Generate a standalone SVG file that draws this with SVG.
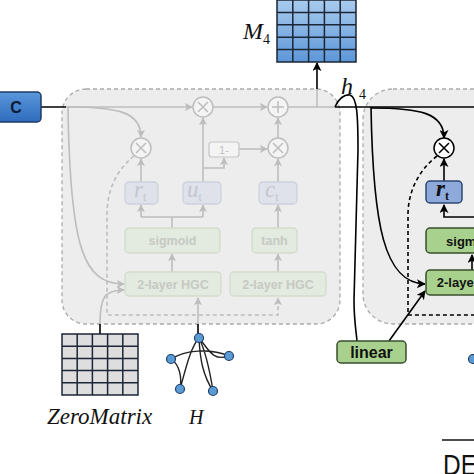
<svg xmlns="http://www.w3.org/2000/svg" width="474" height="474" viewBox="0 0 474 474">
<defs>
<marker id="ag" viewBox="0 0 10 10" refX="9" refY="5" markerWidth="8" markerHeight="8" markerUnits="userSpaceOnUse" orient="auto"><path d="M0,0 L10,5 L0,10 L2.5,5 z" fill="#bdbdbd"/></marker>
<marker id="ab" viewBox="0 0 10 10" refX="9" refY="5" markerWidth="9" markerHeight="9" markerUnits="userSpaceOnUse" orient="auto"><path d="M0,0 L10,5 L0,10 L2.5,5 z" fill="#000"/></marker>
<linearGradient id="gC" x1="0" y1="0" x2="0" y2="1"><stop offset="0" stop-color="#5a97dc"/><stop offset="1" stop-color="#2e6cbc"/></linearGradient>
<linearGradient id="gM" x1="0" y1="0" x2="0" y2="1"><stop offset="0" stop-color="#a9cbee"/><stop offset="1" stop-color="#5d97d8"/></linearGradient>
<style>
.unit{fill:#ededed;stroke:#ababab;stroke-width:1.3;stroke-dasharray:4 3}
.gl{fill:none;stroke:#bdbdbd;stroke-width:1.6}
.gd{fill:none;stroke:#bdbdbd;stroke-width:1.6;stroke-dasharray:4 3}
.bl{fill:none;stroke:#000;stroke-width:1.6}
.bd{fill:none;stroke:#000;stroke-width:1.6;stroke-dasharray:4 3}
.gcirc{fill:#f4f4f4;stroke:#bdbdbd;stroke-width:1.5}
.gsym{stroke:#bdbdbd;stroke-width:1.5}
.gblue{fill:#dfe2ea;stroke:#cdd1dc;stroke-width:1.3}
.ggreen{fill:#e3eadf;stroke:#d2dccc;stroke-width:1.3}
.gtxt{font-family:"Liberation Sans",Arial,sans-serif;font-weight:bold;font-size:12.5px;fill:#c6c9c4;text-anchor:middle}
.gvar{font-family:"Liberation Serif","Times New Roman",serif;font-style:italic;font-size:23px;fill:#c3c6cf}
.green{fill:#a9d18e;stroke:#384f2c;stroke-width:1.5}
.blue{fill:#8eaadb;stroke:#2b4776;stroke-width:1.5}
.btxt{font-family:"Liberation Sans",Arial,sans-serif;font-weight:bold;font-size:13px;fill:#111;text-anchor:middle}
.var{font-family:"Liberation Serif","Times New Roman",serif;font-style:italic;fill:#111}
.grid{stroke:#1b2636;stroke-width:1.5;fill:none}
.hn{fill:#5b9bd5;stroke:#1f3f66;stroke-width:1.2}
.he{fill:none;stroke:#222;stroke-width:1.4}
</style>
</defs>

<g id="unit-prev"><rect class="unit" x="62" y="89" width="278" height="235" rx="24"/></g>
<g id="unit-next"><rect class="unit" x="363" y="89" width="140" height="235" rx="30"/></g>

<g id="connectors">
<path class="gl" d="M66,107 L192,107" marker-end="url(#ag)"/>
<path class="gl" d="M213,107 L267,107" marker-end="url(#ag)"/>
<path class="gl" d="M288,107 L335,107"/>
<path class="gl" d="M317,107 L317,89"/>
<path class="gl" d="M68,107 C118,107 141,112 141,137" marker-end="url(#ag)"/>
<path class="gl" d="M68,107 C70,250 84,284 124,284" marker-end="url(#ag)"/>
<path class="gl" d="M141,182 L141,159" marker-end="url(#ag)"/>
<path class="gl" d="M203,182 L203,118" marker-end="url(#ag)"/>
<path class="gl" d="M203,168 L224,168 L224,158" marker-end="url(#ag)"/>
<path class="gl" d="M239,149 L267,149" marker-end="url(#ag)"/>
<path class="gl" d="M278,182 L278,159" marker-end="url(#ag)"/>
<path class="gl" d="M278,138 L278,118" marker-end="url(#ag)"/>
<path class="gl" d="M172,228 L172,217 M141,217 L203,217"/>
<path class="gl" d="M141,217 L141,205" marker-end="url(#ag)"/>
<path class="gl" d="M203,217 L203,205" marker-end="url(#ag)"/>
<path class="gl" d="M278,228 L278,205" marker-end="url(#ag)"/>
<path class="gl" d="M172,272 L172,254" marker-end="url(#ag)"/>
<path class="gl" d="M278,272 L278,254" marker-end="url(#ag)"/>
<path class="gd" d="M134,156 C113,173 107,195 107,215 L107,315 L278,315 L278,298" marker-end="url(#ag)"/>
<path class="gl" d="M100,324 C100,298 104,290 124,290" marker-end="url(#ag)"/>
<path class="gl" d="M198,324 L198,298" marker-end="url(#ag)"/>
<path class="bl" d="M33,107 L66,107"/>
<path class="bl" d="M317,89 L317,63" marker-end="url(#ab)"/>
<path class="bl" d="M335,107 L474,107"/>
<path class="bl" d="M335,107 C339,98 345,94 350,95 C357,97 358,115 358,150 L354,300 C354,320 356,330 357,341"/>
<path class="bl" d="M371,107 C373,225 384,283 425,284" marker-end="url(#ab)"/>
<path class="bl" d="M371,108 C420,108 444,113 444,138" marker-end="url(#ab)"/>
<path class="bl" d="M444,181 L444,159" marker-end="url(#ab)"/>
<path class="bl" d="M474,217 L444,217 L444,205" marker-end="url(#ab)"/>
<path class="bl" d="M472,270 L472,255" marker-end="url(#ab)"/>
<path class="bd" d="M437,156 C418,171 408,192 408,215 L408,315 L474,315"/>
<path class="bl" d="M389,341 L425,291" marker-end="url(#ab)"/>
<path class="bl" d="M100,334 L100,324"/>
<path class="bl" d="M198,334 L198,324"/>
</g>

<g id="node-C">
<rect x="-10" y="92" width="51" height="30" rx="4" fill="url(#gC)" stroke="#1d3b66" stroke-width="1.5"/>
<text x="16" y="113" style="font-family:'Liberation Sans',Arial,sans-serif;font-weight:bold;font-size:16px;fill:#0d1a33;text-anchor:middle">C</text>
</g>

<g id="node-M4">
<rect x="277" y="0" width="79" height="62" fill="url(#gM)"/>
<path class="grid" d="M277,0 L356,0 L356,62 L277,62 Z M292.8,0 V62 M308.6,0 V62 M324.4,0 V62 M340.2,0 V62 M277,12.4 H356 M277,24.8 H356 M277,37.2 H356 M277,49.6 H356"/>
<text class="var" x="243" y="39" font-size="24">M<tspan font-size="14" dy="5" font-style="normal">4</tspan></text>
</g>

<g id="label-h4">
<text class="var" x="341" y="94" font-size="24">h<tspan font-size="14" dy="5" dx="6" font-style="normal">4</tspan></text>
</g>

<g id="node-mul-reset-prev">
<circle class="gcirc" cx="141" cy="148" r="10"/>
<path class="gsym" d="M136,143 L146,153 M146,143 L136,153"/>
</g>
<g id="node-mul-update-prev">
<circle class="gcirc" cx="203" cy="107" r="10"/>
<path class="gsym" d="M198,102 L208,112 M208,102 L198,112"/>
</g>
<g id="node-add-prev">
<circle class="gcirc" cx="278" cy="107" r="10"/>
<path class="gsym" d="M272,107 L284,107 M278,101 L278,113"/>
</g>
<g id="node-mul-cand-prev">
<circle class="gcirc" cx="278" cy="148" r="10"/>
<path class="gsym" d="M273,143 L283,153 M283,143 L273,153"/>
</g>
<g id="node-oneminus-prev">
<rect x="209" y="142" width="30" height="15" rx="3" fill="#f4f4f4" stroke="#c6c6c6" stroke-width="1.2"/>
<text x="224" y="154" style="font-family:'Liberation Sans',Arial,sans-serif;font-size:11px;fill:#c0c0c0;text-anchor:middle">1-</text>
</g>
<g id="node-r-prev">
<rect class="gblue" x="125" y="182" width="33" height="22" rx="4"/>
<text class="gvar" x="134" y="197">r<tspan font-size="12" dy="4" font-style="normal">t</tspan></text>
</g>
<g id="node-u-prev">
<rect class="gblue" x="183" y="182" width="38" height="22" rx="4"/>
<text class="gvar" x="187" y="197">u<tspan font-size="12" dy="4" font-style="normal">t</tspan></text>
</g>
<g id="node-c-prev">
<rect class="gblue" x="259" y="182" width="38" height="22" rx="4"/>
<text class="gvar" x="265" y="197">c<tspan font-size="12" dy="4" font-style="normal">t</tspan></text>
</g>
<g id="node-sigmoid-prev">
<rect class="ggreen" x="125" y="228" width="95" height="25" rx="4"/>
<text class="gtxt" x="172.5" y="245">sigmoid</text>
</g>
<g id="node-tanh-prev">
<rect class="ggreen" x="252" y="228" width="45" height="25" rx="4"/>
<text class="gtxt" x="274.5" y="245">tanh</text>
</g>
<g id="node-hgc1-prev">
<rect class="ggreen" x="125" y="272" width="96" height="24" rx="4"/>
<text class="gtxt" x="173" y="288.5">2-layer HGC</text>
</g>
<g id="node-hgc2-prev">
<rect class="ggreen" x="230" y="272" width="96" height="24" rx="4"/>
<text class="gtxt" x="278" y="288.5">2-layer HGC</text>
</g>

<g id="node-mul-next">
<circle cx="444" cy="148" r="10" fill="#fff" stroke="#000" stroke-width="1.5"/>
<path d="M439,143 L449,153 M449,143 L439,153" stroke="#000" stroke-width="1.5"/>
</g>
<g id="node-r-next">
<rect class="blue" x="426" y="181" width="36" height="22" rx="4"/>
<text class="var" x="436" y="196" font-size="23" font-weight="bold">r<tspan font-size="12" dy="4" font-style="normal">t</tspan></text>
</g>
<g id="node-sigmoid-next">
<rect class="green" x="426" y="228" width="95" height="25" rx="4"/>
<text class="btxt" x="471" y="245.5">sigmoid</text>
</g>
<g id="node-hgc-next">
<rect class="green" x="426" y="270" width="96" height="25" rx="4"/>
<text class="btxt" x="474" y="287">2-layer HGC</text>
</g>
<g id="node-linear">
<rect class="green" x="337" y="341" width="69" height="22" rx="4"/>
<text x="371.5" y="357.5" style="font-family:'Liberation Sans',Arial,sans-serif;font-weight:bold;font-size:16px;fill:#111;text-anchor:middle">linear</text>
</g>

<g id="node-zeromatrix">
<rect x="62" y="334" width="76" height="61" fill="#dedede"/>
<path class="grid" d="M62,334 H138 V395 H62 Z M77.2,334 V395 M92.4,334 V395 M107.6,334 V395 M122.8,334 V395 M62,346.2 H138 M62,358.4 H138 M62,370.6 H138 M62,382.8 H138" stroke="#222"/>
<text class="var" x="47" y="424" font-size="23">ZeroMatrix</text>
</g>

<g id="node-H">
<path class="he" d="M199,338 C190,348 185,372 180,389 M199,338 C205,350 210,372 213,391 M171,359 C185,350 210,348 229,356 M171,359 C180,365 182,378 180,389 M199,338 C200,360 203,375 213,391 M199,338 C208,348 212,362 229,356"/>
<circle class="hn" cx="199" cy="338" r="4.5"/>
<circle class="hn" cx="171" cy="359" r="4.5"/>
<circle class="hn" cx="229" cy="356" r="4.5"/>
<circle class="hn" cx="180" cy="389" r="4.5"/>
<circle class="hn" cx="213" cy="391" r="4.5"/>
<text class="var" x="189" y="424" font-size="20">H</text>
</g>

<g id="node-H-next">
<circle class="hn" cx="473" cy="359" r="4.5"/>
</g>

<g id="label-DE">
<path d="M442,440 L474,440" stroke="#111" stroke-width="1.5"/>
<text x="443" y="475" textLength="34" lengthAdjust="spacingAndGlyphs" style="font-family:'Liberation Sans',Arial,sans-serif;font-size:30px;fill:#111">DE</text>
</g>
</svg>
